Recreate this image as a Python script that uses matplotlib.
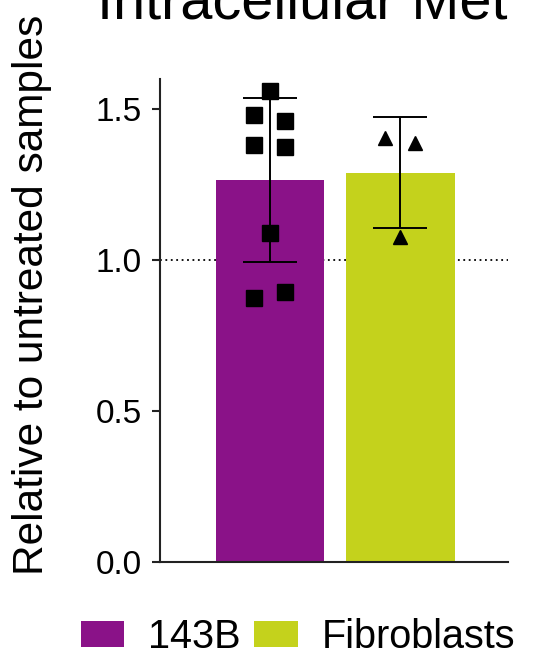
import numpy as np
import matplotlib
matplotlib.use("Agg")
import matplotlib.pyplot as plt
from matplotlib.patches import Patch
from matplotlib.ticker import FormatStrFormatter

plt.rcParams["font.family"] = ["Liberation Sans", "DejaVu Sans"]

# per-replicate values, normalised to untreated samples
groups = ["143B", "Fibroblasts"]
vals_143b = [1.561, 1.480, 1.460, 1.381, 1.373, 1.090, 0.873, 0.895]
vals_fibro = [1.403, 1.389, 1.077]
colors = ["#8a1288", "#c4d21c"]
markers = ["s", "^"]

# horizontal scatter of replicate points around each bar centre
jitter_143b = [0.0, -0.12, 0.115, -0.12, 0.115, 0.0, -0.12, 0.115]
jitter_fibro = [-0.12, 0.115, 0.0]

samples = [vals_143b, vals_fibro]
jitters = [jitter_143b, jitter_fibro]
means = [np.mean(v) for v in samples]
sds = [np.std(v, ddof=1) for v in samples]

fig = plt.figure(figsize=(5.37, 6.59), dpi=100)
ax = fig.add_axes([0.298, 0.1472, 0.648, 0.7332])

x = np.arange(len(groups))
ax.axhline(1.0, color="black", lw=1.3, ls=(0, (1, 2)), zorder=0)
ax.bar(x, means, width=0.835, color=colors, zorder=1)
ax.errorbar(x, means, yerr=sds, fmt="none", ecolor="black", elinewidth=1.4,
            capsize=19.5, capthick=1.4, zorder=3)
for i, (v, j) in enumerate(zip(samples, jitters)):
    ax.plot(x[i] + np.array(j), v, ls="none", marker=markers[i],
            color="black", markersize=11 if markers[i] == "s" else 10.5, zorder=4)

ax.set_xlim(-0.843, 1.824)
ax.set_ylim(0, 1.6)
ax.set_yticks([0.0, 0.5, 1.0, 1.5])
ax.yaxis.set_major_formatter(FormatStrFormatter("%.1f"))
ax.set_xticks([])
for s in ["top", "right"]:
    ax.spines[s].set_visible(False)
for s in ["left", "bottom"]:
    ax.spines[s].set_linewidth(1.5)
    ax.spines[s].set_color("#222222")
ax.tick_params(axis="y", length=6, width=1.5, pad=7, labelsize=24, color="#222222")

fig.text(302.5 / 537, 1 - 18.3 / 659, "Intracellular Met", ha="center",
         va="baseline", fontsize=41.5)
fig.text(12 / 537, 1 - 295 / 659, "Relative to untreated samples",
         rotation=90, ha="left", va="center", fontsize=30.5)

handles = [Patch(facecolor=c, edgecolor="none") for c in colors]
fig.legend(handles, groups, loc="center left", ncol=2, frameon=False,
           bbox_to_anchor=(81 / 537, 1 - 637 / 659), fontsize=28.5,
           handlelength=1.09, handleheight=0.6, handletextpad=0.6,
           columnspacing=0.35, borderpad=0, borderaxespad=0)

fig.savefig("out.png", dpi=100)
